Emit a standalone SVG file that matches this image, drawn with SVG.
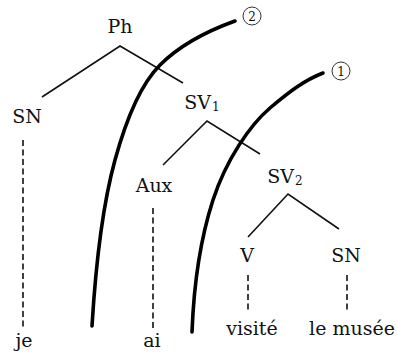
<svg xmlns="http://www.w3.org/2000/svg" width="398" height="355" viewBox="0 0 398 355">
<style>
.t{font-family:'DejaVu Serif',serif;font-size:19px;fill:#111;text-anchor:middle}
.sub{font-size:12px}
.num{font-size:12px}
.ring{stroke:#333;stroke-width:1;fill:none}
.br{stroke:#111;stroke-width:1.6;fill:none}
.dash{stroke:#111;stroke-width:1.6;stroke-dasharray:6 3.5;fill:none}
.cut{stroke:#000;stroke-width:3.6;fill:none;stroke-linecap:round}
</style>
<rect width="398" height="355" fill="#fff"/>
<g id="connectors">
<polyline class="br" points="42,97 120,46 183,83"/>
<polyline class="br" points="163,165 207,121 260,154"/>
<polyline class="br" points="248,237 288,194 339,229"/>
<line class="dash" x1="23" y1="140" x2="23" y2="329"/>
<line class="dash" x1="153" y1="208" x2="153" y2="330"/>
<line class="dash" x1="248" y1="275" x2="248" y2="313"/>
<line class="dash" x1="347" y1="275" x2="347" y2="313"/>
</g>
<g id="cut2">
<path class="cut" d="M92,326 C96,260 104,200 115,160 S140,85 160,65 S210,30 235,21"/>
<circle class="ring" cx="252" cy="16" r="9"/>
<text class="t num" x="252" y="20.5">2</text>
</g>
<g id="cut1">
<path class="cut" d="M192,332 C194,280 200,240 213,200 S250,125 270,108 S305,80 323,73"/>
<circle class="ring" cx="341" cy="71" r="9"/>
<text class="t num" x="341" y="75.5">1</text>
</g>
<g id="Ph"><text class="t" x="120" y="33">Ph</text></g>
<g id="SN1"><text class="t" x="27" y="123">SN</text></g>
<g id="SV1"><text class="t" x="202" y="109">SV<tspan class="sub" dx="1" dy="2">1</tspan></text></g>
<g id="Aux"><text class="t" x="154" y="192">Aux</text></g>
<g id="SV2"><text class="t" x="285" y="183">SV<tspan class="sub" dx="1" dy="2">2</tspan></text></g>
<g id="V"><text class="t" x="247" y="262">V</text></g>
<g id="SN2"><text class="t" x="346" y="262">SN</text></g>
<g id="je"><text class="t" x="24" y="347">je</text></g>
<g id="ai"><text class="t" x="152" y="347">ai</text></g>
<g id="visite"><text class="t" x="252" y="335">visité</text></g>
<g id="musee"><text class="t" x="352" y="335">le musée</text></g>
</svg>
